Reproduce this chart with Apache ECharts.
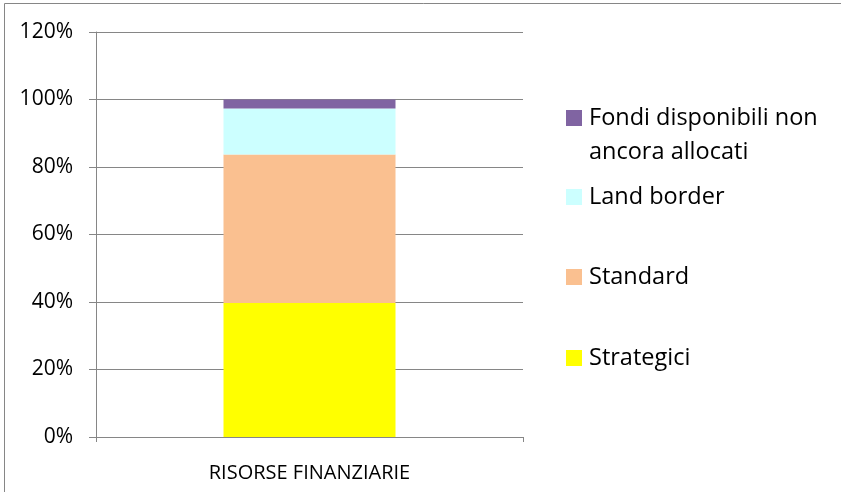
<!DOCTYPE html>
<html>
<head>
<meta charset="utf-8">
<script src="https://cdn.jsdelivr.net/npm/echarts@6/dist/echarts.min.js"></script>
<style>
html,body{margin:0;padding:0;background:#fff;}
#chart{width:841px;height:492px;}
</style>
</head>
<body>
<div id="chart"></div>
<script>
var categories = ['RISORSE FINANZIARIE'];
var strategici = [39.7];
var standard = [44.0];
var landBorder = [13.6];
var fondi = [2.7];
var yTicks = [0, 20, 40, 60, 80, 100, 120];

var chart = echarts.init(document.getElementById('chart'));
var font = '"Open Sans", sans-serif';

function legendAt(name, top) {
    return {
        data: [name],
        left: 566,
        top: top,
        orient: 'vertical',
        itemWidth: 16,
        itemHeight: 16,
        itemGap: 0,
        padding: 0,
        icon: 'rect',
        selectedMode: false,
        formatter: function (n) {
            // leading empty line keeps the square level with the first text line
            return n === 'Fondi disponibili non ancora allocati' ? '\nFondi disponibili non\nancora allocati' : n;
        },
        textStyle: {
            color: '#000',
            fontSize: 23.5,
            fontFamily: font,
            lineHeight: 34,
            padding: [0, 0, 0, 2]
        }
    };
}

var option = {
    animation: false,
    graphic: [{
        type: 'rect',
        shape: {x: 4.5, y: 3.5, width: 900, height: 600},
        style: {fill: 'none', stroke: '#868686', lineWidth: 1},
        silent: true
    }],
    legend: [
        legendAt('Fondi disponibili non ancora allocati', 67),
        legendAt('Land border', 180),
        legendAt('Standard', 260),
        legendAt('Strategici', 341)
    ],
    grid: {left: 96, right: 318, top: 32, bottom: 55},
    xAxis: {
        type: 'category',
        data: categories,
        axisLine: {lineStyle: {color: '#868686'}},
        axisTick: {show: true, length: 5, lineStyle: {color: '#868686'}},
        axisLabel: {color: '#000', fontSize: 20, fontFamily: font, margin: 26}
    },
    yAxis: {
        type: 'value',
        min: 0,
        max: 120,
        interval: 20,
        axisLine: {show: true, lineStyle: {color: '#868686'}},
        axisTick: {show: true, length: 7, lineStyle: {color: '#868686'}},
        splitLine: {lineStyle: {color: '#868686'}},
        axisLabel: {
            color: '#000', fontSize: 21, fontFamily: font, margin: 23,
            formatter: function (v) { return yTicks.indexOf(v) >= 0 ? v + '%' : ''; }
        }
    },
    series: [
        {name: 'Strategici', type: 'bar', stack: 'a', data: strategici, barWidth: 172, itemStyle: {color: '#FFFF00'}},
        {name: 'Standard', type: 'bar', stack: 'a', data: standard, itemStyle: {color: '#FAC090'}},
        {name: 'Land border', type: 'bar', stack: 'a', data: landBorder, itemStyle: {color: '#CCFFFF'}},
        {name: 'Fondi disponibili non ancora allocati', type: 'bar', stack: 'a', data: fondi, itemStyle: {color: '#8064A2'}}
    ]
};
chart.setOption(option);
</script>
</body>
</html>
